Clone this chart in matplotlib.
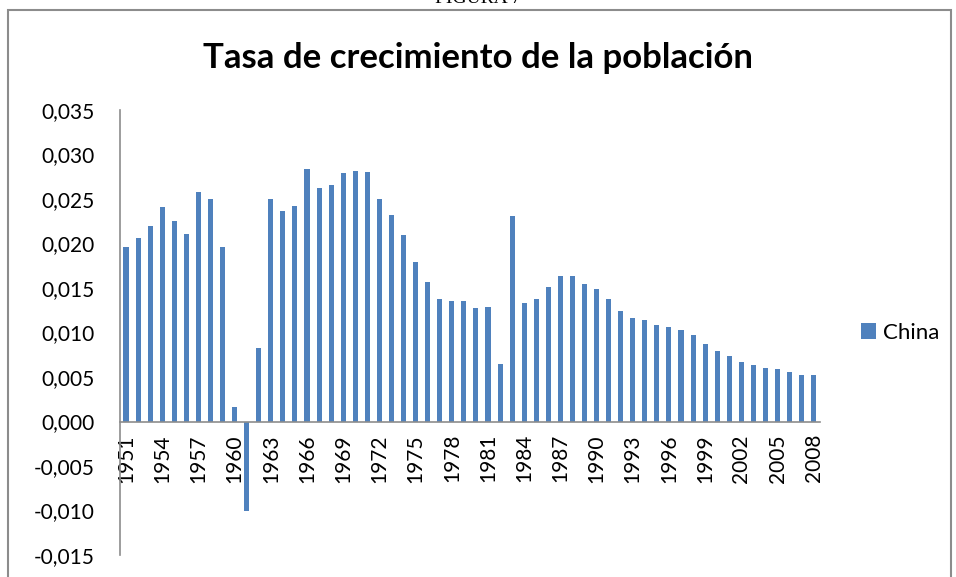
import matplotlib.pyplot as plt
from matplotlib.patches import Rectangle
from matplotlib.ticker import FuncFormatter

plt.rcParams['font.family'] = ['Lato', 'DejaVu Sans']

years = list(range(1951, 2009))
tasa = [0.0196, 0.0206, 0.0220, 0.0241, 0.0225, 0.0211, 0.0258, 0.0250, 0.0196, 0.0016,
        -0.0100, 0.0083, 0.0250, 0.0236, 0.0242, 0.0284, 0.0262, 0.0266, 0.0279, 0.0281,
        0.0280, 0.0250, 0.0232, 0.0210, 0.0179, 0.0157, 0.0138, 0.0135, 0.0135, 0.0127,
        0.0129, 0.0065, 0.0231, 0.0133, 0.0138, 0.0151, 0.0163, 0.0163, 0.0155, 0.0149,
        0.0138, 0.0124, 0.0116, 0.0114, 0.0109, 0.0106, 0.0103, 0.0097, 0.0087, 0.0079,
        0.0074, 0.0067, 0.0063, 0.0060, 0.0059, 0.0056, 0.0052, 0.0052]
serie = 'China'
titulo = 'Tasa de crecimiento de la población'
color = '#4F81BD'

fig = plt.figure(figsize=(9.56, 5.77), dpi=100)
ax = fig.add_axes([0.1255, 0.0381, 0.732, 0.7712])

x = list(range(len(years)))
ax.bar(x, tasa, width=0.42, color=color, label=serie, zorder=2)

# eje x en y=0 (antes de fijar las etiquetas, porque set_position las reinicia)
ax.spines['bottom'].set_position(('data', 0))
for s in ['top', 'right']:
    ax.spines[s].set_visible(False)
for s in ['left', 'bottom']:
    ax.spines[s].set_color('#8c8c8c')
    ax.spines[s].set_linewidth(1.2)

ax.set_xlim(-0.5, len(years) - 0.5)
ax.set_ylim(-0.015, 0.035)
ax.set_yticks([-0.015 + 0.005 * i for i in range(11)])
ax.yaxis.set_major_formatter(FuncFormatter(lambda v, p: f'{v:.3f}'.replace('.', ',').replace('-0,000', '0,000')))

ax.set_xticks(x[::3])
ax.set_xticklabels([str(y) for y in years[::3]], rotation=90, fontsize=15, va='top')
ax.tick_params(axis='x', length=0, pad=9)
ax.tick_params(axis='y', length=0, pad=18, labelsize=15)

fig.text(0.5, 0.90, titulo, ha='center', va='center', fontsize=25, fontweight='bold')
fig.text(0.5, 1.003, 'FIGURA 7', ha='center', va='center', fontsize=14, family='Liberation Serif')

ax.legend(loc='center left', bbox_to_anchor=(1.03, 0.5), frameon=False, fontsize=16,
          handlelength=0.7, handleheight=0.7, handletextpad=0.3)

fig.patches.append(Rectangle((8 / 956, -0.01), 943 / 956, 1 - 10 / 577 + 0.01,
                             transform=fig.transFigure, fill=False,
                             edgecolor='#8c8c8c', linewidth=1.5))

plt.savefig('out.png', dpi=100, facecolor='white')
plt.close()
